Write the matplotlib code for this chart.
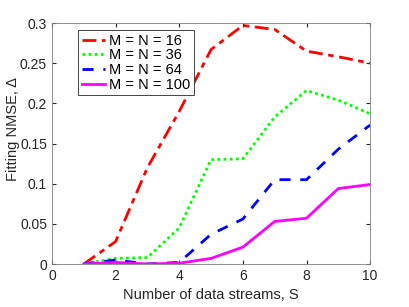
import matplotlib
matplotlib.use('Agg')
import matplotlib.pyplot as plt

plt.rcParams['font.family'] = ['Liberation Sans', 'DejaVu Sans']

S = [1, 2, 3, 4, 5, 6, 7, 8, 9, 10]
nmse_16 = [0, 0.028, 0.12, 0.19, 0.267, 0.297, 0.292, 0.265, 0.258, 0.25]
nmse_36 = [0, 0.007, 0.008, 0.045, 0.13, 0.131, 0.183, 0.216, 0.204, 0.187]
nmse_64 = [0, 0.005, 0.0, 0.002, 0.037, 0.056, 0.105, 0.105, 0.143, 0.173]
nmse_100 = [0, 0.002, 0.0, 0.001, 0.007, 0.021, 0.053, 0.057, 0.094, 0.099]
labels = ['M = N = 16', 'M = N = 36', 'M = N = 64', 'M = N = 100']

fig = plt.figure(figsize=(4.09, 3.07), dpi=100)
ax = fig.add_axes([0.127, 0.140, 0.778, 0.785])

ax.plot(S, nmse_16, color='#ff0000', lw=2, linestyle=(0, (5, 2, 2, 2)), label=labels[0])
ax.plot(S, nmse_36, color='#00ff00', lw=2, linestyle=(0, (1, 1.2)), label=labels[1])
ax.plot(S, nmse_64, color='#0000ff', lw=2, linestyle=(0, (4, 3.5)), label=labels[2])
ax.plot(S, nmse_100, color='#ff00ff', lw=2, linestyle='-', label=labels[3])

ax.set_xlim(0, 10)
ax.set_ylim(0, 0.3)
ax.set_xticks([0, 2, 4, 6, 8, 10])
ax.set_yticks([0, 0.05, 0.1, 0.15, 0.2, 0.25, 0.3])
ax.set_yticklabels(['0', '0.05', '0.1', '0.15', '0.2', '0.25', '0.3'])
ax.tick_params(direction='in', top=True, right=True, labelsize=10, colors='#262626', length=3)
for sp in ax.spines.values():
    sp.set_color('#808080')
    sp.set_linewidth(0.6)

ax.set_xlabel('Number of data streams, S', fontsize=10.5, color='#262626')
ax.set_ylabel('Fitting NMSE, Δ', fontsize=10.5, color='#262626')
ax.yaxis.set_label_coords(-0.10, 0.56)

leg = ax.legend(loc='upper left', bbox_to_anchor=(0.082, 0.971), borderaxespad=0,
                fontsize=10.5, fancybox=False, framealpha=1, edgecolor='#262626',
                handlelength=1.6, borderpad=0.25, labelspacing=0.05, handletextpad=0.3)
leg.get_frame().set_linewidth(0.6)

fig.savefig('out.png', dpi=100)
